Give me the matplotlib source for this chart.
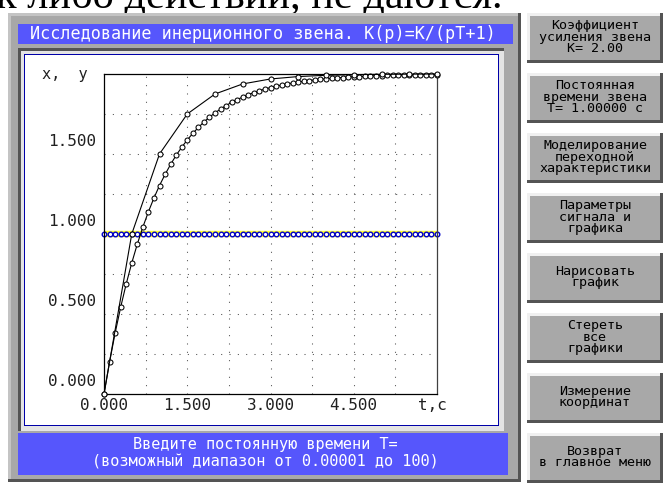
"""
Inertial link step response screen (DOS-style GUI) rebuilt in matplotlib.
Pixel layout of the chrome is done on a full-figure axes in pixel units,
the plot itself lives in a normal axes placed over the white area.
"""

import matplotlib
matplotlib.use("Agg")
import matplotlib.pyplot as plt
from matplotlib.patches import Rectangle
from matplotlib.transforms import offset_copy

# ------------------------
# data
# ------------------------
dt_fine = 0.1
y_fine = [
    0.000, 0.200, 0.380, 0.542, 0.688, 0.819, 0.937, 1.043, 1.139, 1.225,
    1.303, 1.372, 1.435, 1.492, 1.542, 1.588, 1.629, 1.666, 1.700, 1.730,
    1.757, 1.781, 1.803, 1.823, 1.840, 1.856, 1.871, 1.884, 1.895, 1.906,
    1.915, 1.924, 1.931, 1.938, 1.944, 1.950, 1.955, 1.959, 1.964, 1.967,
    1.970, 1.973, 1.976, 1.978, 1.981, 1.983, 1.984, 1.986, 1.987, 1.989,
    1.990, 1.991, 1.992, 1.992, 1.993, 1.994, 1.995, 1.995, 1.996, 1.996,
    1.996,
]

dt_coarse = 0.5
y_coarse = [0.0, 1.0, 1.5, 1.75, 1.875, 1.938, 1.969, 1.984, 1.992, 1.996,
            1.998, 1.999, 2.0]

step_level = 1.0
n_step = 61
dt_step = 0.1

x_ticks = [0.0, 1.5, 3.0, 4.5]
x_ticklabels = ["0.000", "1.500", "3.000", "4.500"]
x_grid = [0.75, 1.5, 2.25, 3.0, 3.75, 4.5, 5.25]
y_ticks = [0.0, 0.5, 1.0, 1.5]
y_ticklabels = ["0.000", "0.500", "1.000", "1.500"]
y_grid = [0.25, 0.5, 0.75, 1.0, 1.25, 1.5, 1.75]

title_text = "Исследование инерционного звена. K(p)=K/(pT+1)"
status_lines = ["Введите постоянную времени T=",
                "(возможный диапазон от 0.00001 до 100)"]
doc_text = "к либо действий, не даются."

buttons = [
    ["Коэффициент", "усиления звена", "K= 2.00"],
    ["Постоянная", "времени звена", "T= 1.00000 с"],
    ["Моделирование", "переходной", "характеристики"],
    ["Параметры", "сигнала и", "графика"],
    ["Нарисовать", "график"],
    ["Стереть", "все", "графики"],
    ["Измерение", "координат"],
    ["Возврат", "в главное меню"],
]

GRAY = "#a8a8a8"
DARK = "#545454"
LIGHT = "#e4e4e4"
BLUE = "#5656fc"
MONO = "DejaVu Sans Mono"

W, H = 665, 486
fig = plt.figure(figsize=(W / 100, H / 100), dpi=100)
fig.patch.set_facecolor("white")

bg = fig.add_axes([0, 0, 1, 1])
bg.set_xlim(0, W)
bg.set_ylim(H, 0)
bg.axis("off")


def rect(x0, y0, x1, y1, color, z=1):
    bg.add_patch(Rectangle((x0, y0), x1 - x0, y1 - y0, facecolor=color,
                           edgecolor="none", zorder=z))


def bevel(x0, y0, x1, y1, light, dark, w, z=1):
    rect(x0, y0, x1, y0 + w, light, z)
    rect(x0, y0, x0 + w, y1, light, z)
    rect(x0, y1 - w, x1, y1, dark, z + 0.1)
    rect(x1 - w, y0, x1, y1, dark, z + 0.1)


# cut-off line of the surrounding document
bg.text(-4, 8, doc_text, family="Liberation Serif", fontsize=30.5,
        ha="left", va="baseline", color="black", zorder=0)

# main gray panel
rect(8, 13, 521, 482, GRAY)
bevel(8, 13, 521, 482, "#c4c4c4", DARK, 3, z=1.2)

# title bar
rect(18, 24, 513, 44, BLUE, 2)
bg.text(30, 34, title_text, family=MONO, fontsize=12.1, color="white",
        ha="left", va="center", zorder=3)

# plot window with inset bevel
rect(18, 48, 504, 431, DARK, 2)
rect(21, 51, 504, 431, LIGHT, 2.1)
rect(24, 54, 499, 426, "#0000a8", 2.2)
rect(25, 55, 498, 425, "white", 2.3)

# status bar
rect(18, 433, 508, 475, BLUE, 2)
for k, s in enumerate(status_lines):
    bg.text(265, 444 + 18 * k, s, family=MONO, fontsize=11, color="white",
            ha="center", va="center", zorder=3)

# right-hand button column
for i, lines in enumerate(buttons):
    top = 13 + 60 * i
    bot = top + 50
    rect(527, top, 663, bot, GRAY, 2)
    bevel(527, top, 663, bot, "#f0f0f0", DARK, 3, z=2.2)
    cy = (top + bot) / 2 - 1
    n = len(lines)
    for j, s in enumerate(lines):
        y = cy + (j - (n - 1) / 2) * 11.5
        bg.text(595, y, s, family=MONO, fontsize=9.6, color="black",
                ha="center", va="center", zorder=3)

# axis caption
bg.text(65, 74, "x,  y", family=MONO, fontsize=11, color="#202020",
        ha="center", va="center", zorder=3)

# ------------------------
# plot area
# ------------------------
x0, y0, x1, y1 = 104, 74, 437, 394
ax = fig.add_axes([x0 / W, 1 - y1 / H, (x1 - x0) / W, (y1 - y0) / H])
ax.set_facecolor("white")
ax.set_xlim(0, 6)
ax.set_ylim(0, 2)
ax.set_xticks([])
ax.set_yticks([])
for side in ["left", "bottom", "top", "right"]:
    ax.spines[side].set_linewidth(0.9)
    ax.spines[side].set_color("black")
ax.spines["right"].set_color("#404040")

for gx in x_grid:
    ax.axvline(gx, color="#505050", lw=0.75, linestyle=(0, (1, 7)), zorder=1)
for gy in y_grid:
    ax.axhline(gy, color="#505050", lw=0.75, linestyle=(0, (1, 7)), zorder=1)

t_step = [i * dt_step for i in range(n_step)]
ax.plot(t_step, [step_level] * n_step, color="#ffff30", lw=4.6, zorder=2,
        solid_capstyle="butt", clip_on=False)
ax.plot(t_step, [step_level] * n_step, linestyle="none", marker="o", ms=3.3,
        mfc="white", mec="#0000c8", mew=1.0, zorder=2.5, clip_on=False)

t_fine = [i * dt_fine for i in range(len(y_fine))]
t_coarse = [i * dt_coarse for i in range(len(y_coarse))]
ax.plot(t_fine, y_fine, color="black", lw=0.8, marker="o", ms=3.6,
        mfc="white", mec="black", mew=0.75, zorder=3, clip_on=False)
ax.plot(t_coarse, y_coarse, color="black", lw=0.8, marker="o", ms=3.6,
        mfc="white", mec="black", mew=0.75, zorder=3.1, clip_on=False)

ytr = offset_copy(ax.get_yaxis_transform(), fig=fig, x=-8, y=13, units="dots")
for v, s in zip(y_ticks, y_ticklabels):
    ax.text(0, v, s, transform=ytr, family=MONO, fontsize=11.5,
            color="#202020", ha="right", va="center")

xtr = offset_copy(ax.get_xaxis_transform(), fig=fig, x=0, y=-12, units="dots")
for v, s in zip(x_ticks, x_ticklabels):
    ax.text(v, 0, s, transform=xtr, family=MONO, fontsize=11.5,
            color="#202020", ha="center", va="center")
ax.text(6.0, 0, "t,c", transform=offset_copy(ax.get_xaxis_transform(), fig=fig,
        x=-5, y=-12, units="dots"), family=MONO, fontsize=11.5,
        color="#202020", ha="center", va="center")

fig.savefig("out.png", dpi=100)
